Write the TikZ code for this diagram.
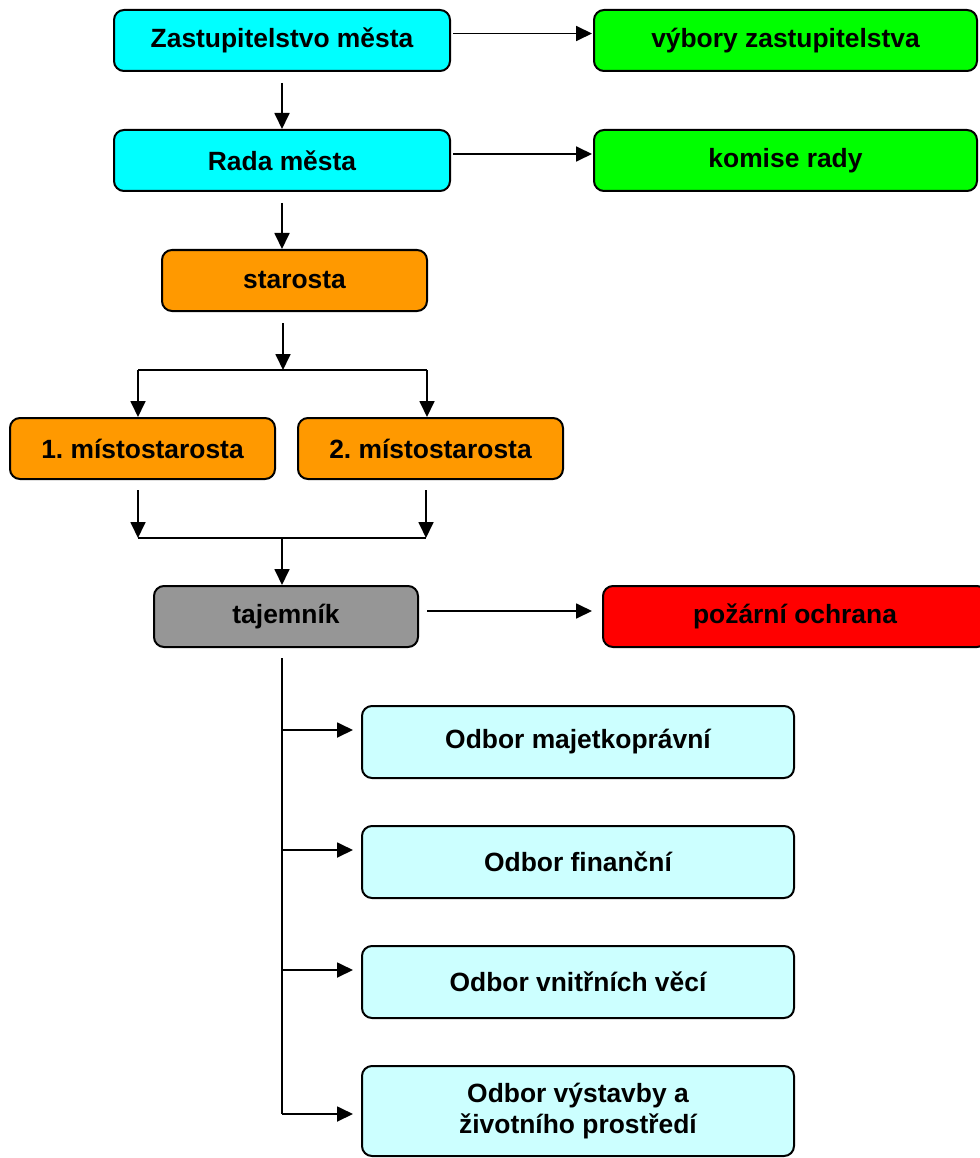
\documentclass[tikz,border=0pt]{standalone}
\usepackage{fontspec}
\setmainfont{Liberation Sans}
\usepackage{tikz}
\usetikzlibrary{arrows.meta}

\definecolor{cyanbox}{RGB}{0,255,255}
\definecolor{greenbox}{RGB}{0,255,0}
\definecolor{orangebox}{RGB}{255,153,0}
\definecolor{graybox}{RGB}{150,150,150}
\definecolor{redbox}{RGB}{255,0,0}
\definecolor{palecyan}{RGB}{204,255,255}

\frenchspacing

\begin{document}
\begin{tikzpicture}[
    x=1pt, y=-1pt,
    block/.style = {draw, line width=2pt, rounded corners=10pt, minimum height=61pt,
                    inner sep=0pt, align=center, font=\bfseries\fontsize{26.4}{31.7}\selectfont},
    odbor/.style = {block, fill=palecyan, minimum width=432pt, minimum height=72pt},
    arrow/.style = {line width=1.8pt, -{Triangle[length=16pt, width=15pt]}},
    line/.style  = {line width=1.8pt}
  ]

  \path[fill=white, use as bounding box] (0,0) rectangle (979,1158);

  % Nodes
  \node[block, fill=cyanbox,   minimum width=336pt] (zast)     at (282,40.5)    {Zastupitelstvo města};
  \node[block, fill=greenbox,  minimum width=383pt] (vybory)   at (785.5,40.5)  {výbory zastupitelstva};
  \node[block, fill=cyanbox,   minimum width=336pt] (rada)     at (282,160.5)   {Rada města};
  \node[block, fill=greenbox,  minimum width=383pt] (komise)   at (785.5,160.5) {komise rady};
  \node[block, fill=orangebox, minimum width=265pt] (starosta) at (294.5,280.5) {starosta};
  \node[block, fill=orangebox, minimum width=265pt] (mist1)    at (142.5,448.5) {1. místostarosta};
  \node[block, fill=orangebox, minimum width=265pt] (mist2)    at (430.5,448.5) {2. místostarosta};
  \node[block, fill=graybox,   minimum width=264pt] (tajemnik) at (286,616.5)   {tajemník};
  \node[block, fill=redbox,    minimum width=384pt] (pozarni)  at (795,616.5)   {požární ochrana};

  \node[odbor] (majetek)  at (578,742)  {Odbor majetkoprávní};
  \node[odbor] (finance)  at (578,862)  {Odbor finanční};
  \node[odbor] (vnitrni)  at (578,982)  {Odbor vnitřních věcí};
  \node[odbor, minimum height=90pt] (vystavba) at (578,1111) {Odbor výstavby a\\životního prostředí};

  % Junctions
  \coordinate (split)    at (283,370);
  \coordinate (splitL)   at (138,370);
  \coordinate (splitR)   at (427,370);
  \coordinate (mergeL)   at (138,538);
  \coordinate (mergeR)   at (426,538);
  \coordinate (merge)    at (282,538);
  \coordinate (trunk)    at (282,658);
  \coordinate (trunkend) at (282,1114);

  % Arrows
  \draw[arrow] ([xshift=2pt, yshift=7pt]zast.east) -- ([xshift=-1pt, yshift=7pt]vybory.west);
  \draw[arrow] ([xshift=2pt, yshift=6.5pt]rada.east) -- ([xshift=-1pt, yshift=6.5pt]komise.west);
  \draw[arrow] ([xshift=8pt, yshift=5.5pt]tajemnik.east) -- ([xshift=-10pt, yshift=5.5pt]pozarni.west);

  \draw[arrow] ([yshift=-11pt]zast.south) -- (rada.north);
  \draw[arrow] ([yshift=-11pt]rada.south) -- (rada.south |- starosta.north);
  \draw[arrow] (split |- starosta.south) ++(0,11) -- (split);

  \draw[line] (splitL) -- (splitR);
  \draw[arrow] (splitL) -- (splitL |- mist1.north);
  \draw[arrow] (splitR) -- (splitR |- mist2.north);

  \draw[arrow] (mergeL |- mist1.south) ++(0,10) -- (mergeL);
  \draw[arrow] (mergeR |- mist2.south) ++(0,10) -- (mergeR);
  \draw[line] (mergeL) -- (mergeR);
  \draw[arrow] (merge) -- (merge |- tajemnik.north);

  \draw[line] (trunk) -- (trunkend);
  \foreach \n/\dy in {majetek/12, finance/12, vnitrni/12, vystavba/-3}
    \draw[arrow] ([yshift=\dy pt]trunk |- \n.west) -- ([xshift=-8pt, yshift=\dy pt]\n.west);

\end{tikzpicture}
\end{document}
